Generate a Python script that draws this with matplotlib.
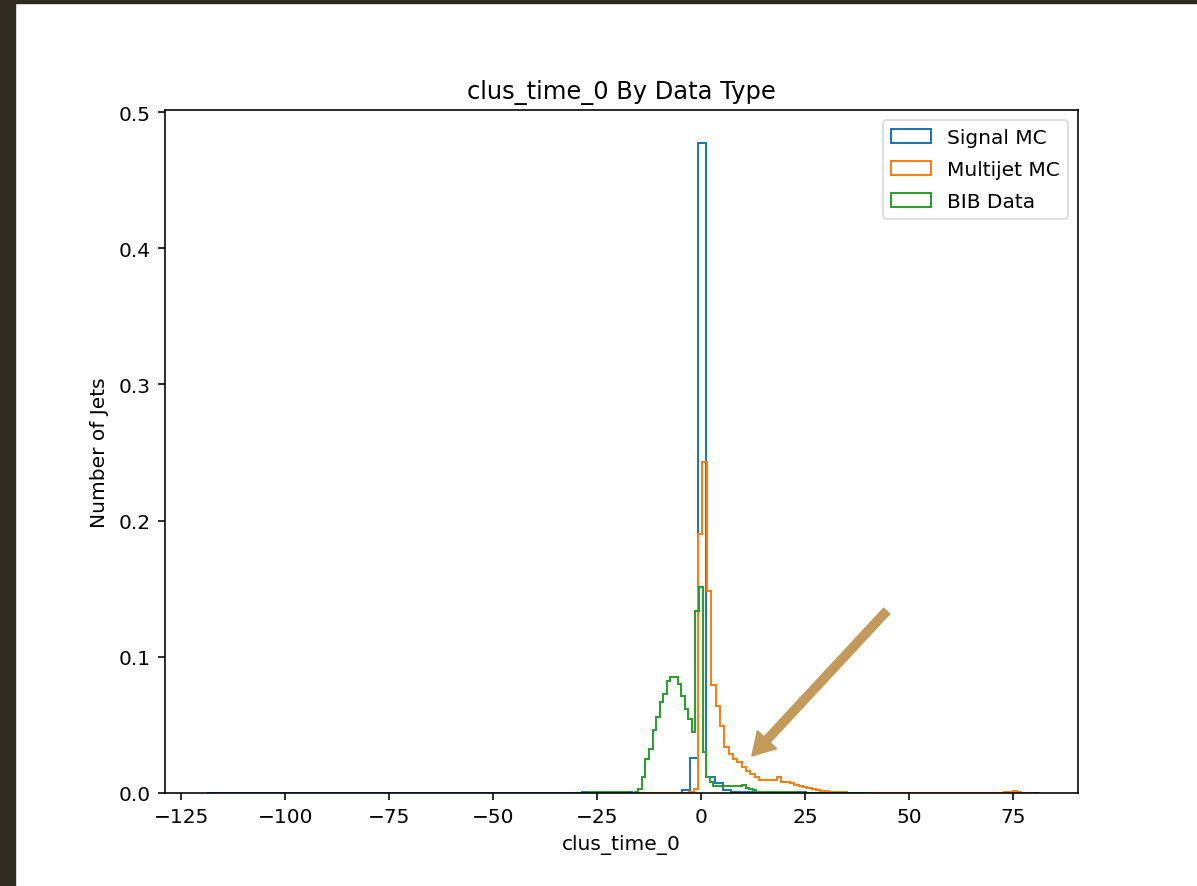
import numpy as np
import matplotlib
matplotlib.use("Agg")
import matplotlib.pyplot as plt
from matplotlib.patches import Rectangle

# ---- histogram contents (normalised counts per bin) ----
# Signal MC: 100 bins of width 2 starting at -118.72
signal_start, signal_width = -118.72, 2.0
signal_vals = [
    0, 0, 0, 0, 0, 0, 0, 0, 0, 0,
    0, 0, 0, 0, 0, 0, 0, 0, 0, 0,
    0, 0, 0, 0, 0, 0, 0, 0, 0, 0,
    0, 0, 0, 0, 0, 0, 0, 0, 0, 0,
    0, 0, 0, 0, 0, 0.0004, 0.0006, 0.0005, 0.0003, 0.0004,
    0.0004, 0.0002, 0.0001, 0.0001, 0, 0, 0.0003, 0.002, 0.026, 0.477,
    0.0115, 0.0075, 0.002, 0.001, 0.0006, 0.0004, 0.0003, 0.0002, 0.0003, 0.0006,
    0.0008, 0.0006, 0.0003, 0.0001, 0, 0, 0, 0, 0, 0,
    0, 0, 0, 0, 0, 0, 0, 0, 0, 0,
    0, 0, 0, 0, 0, 0, 0, 0, 0, 0,
]

# Multijet MC: 94 bins of width 1.05 starting at -18.59
multijet_start, multijet_width = -18.59, 1.05
multijet_vals = [
    0.0003, 0.0003, 0.0002, 0.0002, 0.0001, 0.0001, 0.0001, 0.0001, 0.0001, 0.0001,
    0.0001, 0.0001, 0.0001, 0.0002, 0.0003, 0.0008, 0.003, 0.19, 0.243, 0.148,
    0.079, 0.064, 0.049, 0.0335, 0.0286, 0.025, 0.0225, 0.019, 0.0164, 0.014,
    0.0115, 0.0098, 0.0098, 0.0095, 0.0098, 0.0115, 0.0078, 0.0078, 0.0075, 0.0059,
    0.0055, 0.0042, 0.0035, 0.003, 0.0022, 0.0017, 0.0012, 0.001, 0.001, 0.0008,
    0.0005, 0.0003, 0.0003, 0.0003, 0.0002, 0.0002, 0.0002, 0.0002, 0.0002, 0.0002,
    0.0002, 0.0002, 0.0002, 0.0002, 0.0002, 0.0002, 0.0002, 0.0002, 0.0002, 0.0002,
    0.0002, 0.0002, 0.0002, 0.0002, 0.0002, 0.0002, 0.0002, 0.0002, 0.0002, 0.0002,
    0.0002, 0.0002, 0.0002, 0.0002, 0.0003, 0.0003, 0.0003, 0.0005, 0.0008, 0.0015,
    0.0005, 0.0003, 0.0003, 0.0003,
]

# BIB Data: 82 bins of width 0.86 starting at -29.74
bib_start, bib_width = -29.74, 0.86
bib_vals = [
    0.0003, 0.0003, 0.0003, 0.0008, 0.0008, 0.0008, 0.0008, 0.0008, 0.0004, 0.0004,
    0.0004, 0.0004, 0.0004, 0.0004, 0.0003, 0.0003, 0.0005, 0.003, 0.0115, 0.025,
    0.032, 0.046, 0.056, 0.067, 0.073, 0.082, 0.085, 0.085, 0.080, 0.0715,
    0.062, 0.054, 0.0445, 0.134, 0.151, 0.030, 0.0115, 0.008, 0.005, 0.005,
    0.005, 0.005, 0.005, 0.005, 0.005, 0.0055, 0.006, 0.004, 0.003, 0.002,
    0.001, 0.0006, 0.0006, 0.0006, 0.0006, 0.0006, 0.0006, 0.0006, 0.0006, 0.0006,
    0.0006, 0.0003, 0.0003, 0.0003, 0.0003, 0.0003, 0.0003, 0.0003, 0.0003, 0.0003,
    0.0003, 0.0003, 0.0003, 0.0003, 0.0003, 0.0003, 0.0003, 0.0003, 0.0003, 0.0003,
    0.0003, 0.0003,
]

series = [
    ("Signal MC", signal_start, signal_width, signal_vals, "C0"),
    ("Multijet MC", multijet_start, multijet_width, multijet_vals, "C1"),
    ("BIB Data", bib_start, bib_width, bib_vals, "C2"),
]

W, H = 1197, 887
k = 1.45  # overall scale of text and strokes
fig = plt.figure(figsize=(W / 100, H / 100), dpi=100)

# dark window frame along the left and top edges
fig.patches.append(Rectangle((0, 0), 15 / W, 1, transform=fig.transFigure,
                             color="#2d2b20", zorder=-1))
fig.patches.append(Rectangle((0, 1 - 4 / H), 1, 4 / H, transform=fig.transFigure,
                             color="#2d2b20", zorder=-1))

ax = fig.add_axes([165 / W, 93 / H, (1078 - 165) / W, (794 - 111) / H])

for label, start, width, vals, color in series:
    vals = np.asarray(vals, dtype=float)
    edges = start + width * np.arange(len(vals) + 1)
    centers = 0.5 * (edges[:-1] + edges[1:])
    ax.hist(centers, bins=edges, weights=vals, histtype="step",
            color=color, linewidth=1.0 * k, label=label)

ax.set_xlim(-128.9, 90.6)
ax.set_ylim(0, 0.5015)

fs = 10 * k
ax.set_title("clus_time_0 By Data Type", fontsize=12 * k, pad=6 * k)
ax.set_xlabel("clus_time_0", fontsize=fs, labelpad=4 * k)
ax.set_ylabel("Number of Jets", fontsize=fs, labelpad=5 * k)
ax.tick_params(labelsize=fs, length=3.5 * k, width=0.8 * k, pad=3.5 * k)
for sp in ax.spines.values():
    sp.set_linewidth(0.8 * k)

leg = ax.legend(loc="upper right", fontsize=fs, borderaxespad=0.5,
                labelspacing=0.65)
leg.get_frame().set_linewidth(0.8 * k)

# highlight arrow pointing at the multijet tail
ax.annotate("", xy=(12.2, 0.0272), xytext=(44.6, 0.1336),
            arrowprops=dict(arrowstyle="simple,head_width=1.9,head_length=1.6,tail_width=0.6",
                            color="#c49a5a", mutation_scale=10,
                            shrinkA=0, shrinkB=0))

fig.savefig("out.png", dpi=100)
